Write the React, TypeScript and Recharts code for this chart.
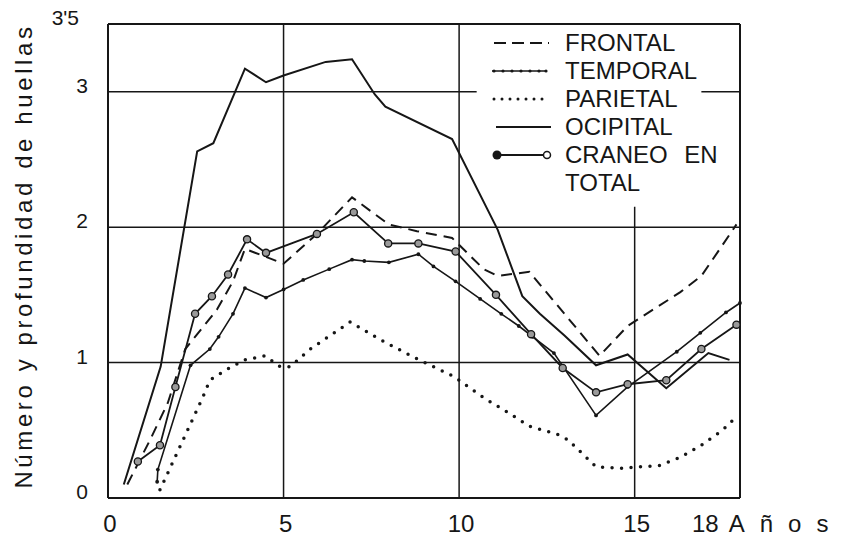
import { LineChart, Line, XAxis, YAxis, ReferenceLine } from 'recharts';

// readings taken off the printed figure (age in years, value)
const frontal = [
  { x: 0.55, y: 0.1 }, { x: 1.2, y: 0.43 }, { x: 1.7, y: 0.7 }, { x: 2.2, y: 1.1 },
  { x: 3.1, y: 1.39 }, { x: 3.56, y: 1.6 }, { x: 3.9, y: 1.84 }, { x: 5.0, y: 1.73 },
  { x: 5.95, y: 1.95 }, { x: 6.95, y: 2.22 }, { x: 8.0, y: 2.02 }, { x: 8.8, y: 1.97 },
  { x: 9.8, y: 1.92 }, { x: 10.7, y: 1.69 }, { x: 11.1, y: 1.64 }, { x: 12.0, y: 1.67 },
  { x: 14.0, y: 1.05 }, { x: 14.8, y: 1.27 }, { x: 16.3, y: 1.52 }, { x: 16.9, y: 1.64 },
  { x: 17.35, y: 1.81 }, { x: 17.9, y: 2.02 },
];

const temporal = [
  { x: 1.4, y: 0.12 }, { x: 1.42, y: 0.21 }, { x: 2.35, y: 0.98 }, { x: 2.9, y: 1.1 },
  { x: 3.15, y: 1.19 }, { x: 3.56, y: 1.36 }, { x: 3.9, y: 1.55 }, { x: 4.5, y: 1.48 },
  { x: 5.0, y: 1.54 }, { x: 5.56, y: 1.61 }, { x: 6.3, y: 1.69 }, { x: 6.95, y: 1.76 },
  { x: 7.3, y: 1.75 }, { x: 8.0, y: 1.74 }, { x: 8.84, y: 1.8 }, { x: 9.27, y: 1.71 },
  { x: 9.9, y: 1.6 }, { x: 10.6, y: 1.47 }, { x: 11.2, y: 1.36 }, { x: 11.7, y: 1.27 },
  { x: 12.1, y: 1.19 }, { x: 12.7, y: 1.07 }, { x: 13.9, y: 0.61 }, { x: 14.8, y: 0.82 },
  { x: 16.2, y: 1.08 }, { x: 16.87, y: 1.22 }, { x: 17.6, y: 1.37 }, { x: 18.0, y: 1.44 },
];

const parietal = [
  { x: 1.48, y: 0.06 }, { x: 2.71, y: 0.75 }, { x: 2.9, y: 0.87 }, { x: 3.39, y: 0.95 },
  { x: 3.9, y: 1.02 }, { x: 4.47, y: 1.05 }, { x: 4.9, y: 0.97 }, { x: 5.19, y: 0.97 },
  { x: 5.76, y: 1.1 }, { x: 6.9, y: 1.3 }, { x: 7.75, y: 1.17 }, { x: 8.7, y: 1.04 },
  { x: 9.83, y: 0.9 }, { x: 10.7, y: 0.74 }, { x: 11.4, y: 0.63 }, { x: 12.0, y: 0.53 },
  { x: 12.8, y: 0.47 }, { x: 13.1, y: 0.43 }, { x: 13.9, y: 0.23 }, { x: 14.6, y: 0.22 },
  { x: 15.7, y: 0.24 }, { x: 16.3, y: 0.3 }, { x: 16.9, y: 0.39 }, { x: 17.5, y: 0.5 },
  { x: 17.9, y: 0.6 },
];

const ocipital = [
  { x: 0.45, y: 0.1 }, { x: 1.5, y: 0.97 }, { x: 2.54, y: 2.56 }, { x: 3.0, y: 2.62 },
  { x: 3.9, y: 3.17 }, { x: 4.5, y: 3.07 }, { x: 5.0, y: 3.12 }, { x: 6.2, y: 3.22 },
  { x: 6.95, y: 3.24 }, { x: 7.6, y: 2.98 }, { x: 7.9, y: 2.89 }, { x: 9.8, y: 2.65 },
  { x: 11.1, y: 1.98 }, { x: 11.8, y: 1.49 }, { x: 12.3, y: 1.36 }, { x: 13.0, y: 1.2 },
  { x: 13.9, y: 0.98 }, { x: 14.8, y: 1.06 }, { x: 15.9, y: 0.81 }, { x: 17.1, y: 1.07 },
  { x: 17.7, y: 1.02 },
];

const craneo = [
  { x: 0.85, y: 0.27 }, { x: 1.48, y: 0.39 }, { x: 1.92, y: 0.82 }, { x: 2.48, y: 1.36 },
  { x: 2.96, y: 1.49 }, { x: 3.42, y: 1.65 }, { x: 3.96, y: 1.91 }, { x: 4.5, y: 1.81 },
  { x: 5.95, y: 1.95 }, { x: 7.0, y: 2.11 }, { x: 7.98, y: 1.88 }, { x: 8.84, y: 1.88 },
  { x: 9.9, y: 1.82 }, { x: 11.05, y: 1.5 }, { x: 12.05, y: 1.21 }, { x: 12.95, y: 0.96 },
  { x: 13.9, y: 0.78 }, { x: 14.8, y: 0.84 }, { x: 15.9, y: 0.87 }, { x: 16.9, y: 1.1 },
  { x: 17.9, y: 1.28 },
];

const xTicks = [0, 5, 10, 15, 18];
const yTicks = [0, 1, 2, 3, 3.5];
const yTickText: Record<string, string> = { '3.5': "3'5" };
const xLastLabel = 'Años';
const yTitle = 'Número y profundidad de huellas';
const legendLabels = ['FRONTAL', 'TEMPORAL', 'PARIETAL', 'OCIPITAL', 'CRANEO EN', 'TOTAL'];

const ink = '#161616';
const font = '"Liberation Sans", Arial, sans-serif';

function XTick({ x, payload }: any) {
  if (payload.value === 18) {
    return (
      <text x={x - 48} y={532} fontSize={24} fontFamily={font} fill={ink}>
        <tspan>18</tspan>
        <tspan dx={10} letterSpacing={15}>{xLastLabel}</tspan>
      </text>
    );
  }
  return (
    <text x={x + 2} y={532} textAnchor="middle" fontSize={24} fontFamily={font} fill={ink}>
      {payload.value}
    </text>
  );
}

function YTick({ y, payload }: any) {
  const label = yTickText[String(payload.value)] ?? String(payload.value);
  return (
    <text x={payload.value === 3.5 ? 79 : 88} y={y + 1} textAnchor="end" fontSize={21} fontFamily={font} fill={ink}>
      {label}
    </text>
  );
}

function YTitle() {
  return (
    <text
      transform="translate(32,256) rotate(-90)"
      textAnchor="middle"
      fontSize={24}
      letterSpacing={3.6}
      fontFamily={font}
      fill={ink}
    >
      {yTitle}
    </text>
  );
}

function Symbol({ i }: { i: number }) {
  if (i === 0) return <line x1={3} y1={10} x2={58} y2={10} stroke={ink} strokeWidth={2} strokeDasharray="12 6" />;
  if (i === 1)
    return (
      <g>
        <line x1={1} y1={10} x2={56} y2={10} stroke={ink} strokeWidth={1.3} />
        {[3, 12, 21, 30, 39, 48, 55].map((cx) => (
          <circle key={cx} cx={cx} cy={10} r={1.6} fill={ink} />
        ))}
      </g>
    );
  if (i === 2)
    return <line x1={3} y1={10} x2={55} y2={10} stroke={ink} strokeWidth={3} strokeDasharray="0 8" strokeLinecap="round" />;
  if (i === 3) return <line x1={5} y1={10} x2={60} y2={10} stroke={ink} strokeWidth={2} />;
  if (i === 4)
    return (
      <g>
        <line x1={4} y1={10} x2={54} y2={10} stroke={ink} strokeWidth={2} />
        <circle cx={6} cy={10} r={4.5} fill={ink} />
        <circle cx={56} cy={10} r={3.5} fill="#fff" stroke={ink} strokeWidth={1.5} />
      </g>
    );
  return null;
}

function ChartLegend() {
  return (
    <div style={{ position: 'absolute', left: 491, top: 29, fontFamily: font, fontSize: 24, color: ink, wordSpacing: 10 }}>
      {legendLabels.map((label, i) => (
        <div key={label} style={{ display: 'flex', alignItems: 'center', height: 28 }}>
          <svg width={62} height={20} style={{ marginRight: 12 }}>
            <Symbol i={i} />
          </svg>
          <span style={{ lineHeight: '28px' }}>{label}</span>
        </div>
      ))}
    </div>
  );
}

export default function App() {
  return (
    <div style={{ position: 'absolute', left: 0, top: 0, width: 842, height: 537, background: '#fff' }}>
      <LineChart width={842} height={537} margin={{ top: 24, right: 102, bottom: 0, left: 0 }}>
        <XAxis
          dataKey="x"
          type="number"
          domain={[0, 18]}
          ticks={xTicks}
          interval={0}
          height={39}
          tickLine={false}
          axisLine={{ stroke: ink, strokeWidth: 2 }}
          tick={<XTick />}
        />
        <YAxis
          type="number"
          domain={[0, 3.5]}
          ticks={yTicks}
          interval={0}
          width={108}
          tickLine={false}
          axisLine={{ stroke: ink, strokeWidth: 2 }}
          tick={<YTick />}
          label={<YTitle />}
        />
        <ReferenceLine y={3.5} stroke={ink} strokeWidth={2} />
        <ReferenceLine x={18} stroke={ink} strokeWidth={2} />
        <ReferenceLine x={5} stroke={ink} strokeWidth={1.5} />
        <ReferenceLine x={10} stroke={ink} strokeWidth={1.5} />
        <ReferenceLine segment={[{ x: 15, y: 0 }, { x: 15, y: 2.15 }]} stroke={ink} strokeWidth={1.5} />
        <ReferenceLine y={1} stroke={ink} strokeWidth={1.5} />
        <ReferenceLine y={2} stroke={ink} strokeWidth={1.5} />
        <ReferenceLine segment={[{ x: 0, y: 3 }, { x: 10.5, y: 3 }]} stroke={ink} strokeWidth={1.5} />
        <ReferenceLine segment={[{ x: 16.9, y: 3 }, { x: 18, y: 3 }]} stroke={ink} strokeWidth={1.5} />

        <Line data={ocipital} dataKey="y" type="linear" stroke={ink} strokeWidth={2} dot={false} isAnimationActive={false} />
        <Line
          data={frontal}
          dataKey="y"
          type="linear"
          stroke={ink}
          strokeWidth={2}
          strokeDasharray="11 7"
          dot={false}
          isAnimationActive={false}
        />
        <Line
          data={parietal}
          dataKey="y"
          type="linear"
          stroke={ink}
          strokeWidth={3.5}
          strokeDasharray="0 9.5"
          strokeLinecap="round"
          dot={false}
          isAnimationActive={false}
        />
        <Line
          data={temporal}
          dataKey="y"
          type="linear"
          stroke={ink}
          strokeWidth={1.6}
          dot={{ r: 1.9, fill: ink, stroke: 'none' }}
          isAnimationActive={false}
        />
        <Line
          data={craneo}
          dataKey="y"
          type="linear"
          stroke={ink}
          strokeWidth={1.8}
          dot={{ r: 3.6, fill: '#9a9a9a', stroke: ink, strokeWidth: 1.3 }}
          isAnimationActive={false}
        />
      </LineChart>
      <ChartLegend />
    </div>
  );
}
